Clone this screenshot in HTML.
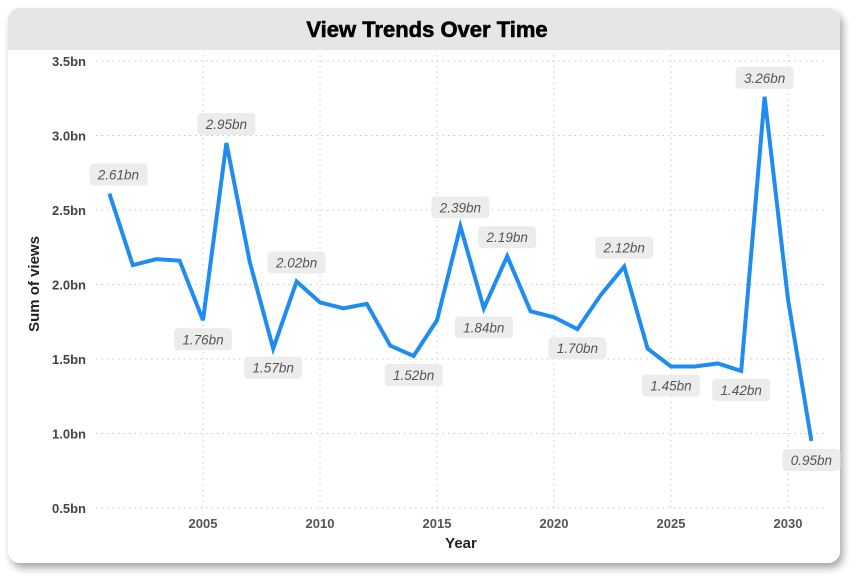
<!DOCTYPE html>
<html><head><meta charset="utf-8"><style>
body{margin:0;background:#fff;font-family:"Liberation Sans",sans-serif}
</style></head><body>
<svg width="859" height="583" xmlns="http://www.w3.org/2000/svg">
<defs><filter id="sh" x="-5%" y="-5%" width="110%" height="115%"><feDropShadow dx="3" dy="5" stdDeviation="4" flood-color="#000" flood-opacity="0.35"/></filter>
<clipPath id="cc"><rect x="8" y="8" width="832" height="555" rx="12"/></clipPath></defs>
<rect x="8" y="8" width="832" height="555" rx="12" fill="#fff" filter="url(#sh)"/>
<g clip-path="url(#cc)"><rect x="8" y="8" width="832" height="42" fill="#e6e6e6"/></g>
<text x="427" y="37" text-anchor="middle" font-size="22" font-weight="900" fill="#000" stroke="#000" stroke-width="0.6">View Trends Over Time</text>
<g id="grid"></g><g id="axes"></g><g id="line"></g><g id="labels"></g>
<text x="461" y="548" text-anchor="middle" font-size="15" font-weight="bold" fill="#222">Year</text>
<text transform="translate(39,284) rotate(-90)" text-anchor="middle" font-size="15" font-weight="bold" fill="#222">Sum of views</text>
</svg>
<script>
const years=[2001,2002,2003,2004,2005,2006,2007,2008,2009,2010,2011,2012,2013,2014,2015,2016,2017,2018,2019,2020,2021,2022,2023,2024,2025,2026,2027,2028,2029,2030,2031];
const views=[2.61,2.13,2.17,2.16,1.76,2.95,2.15,1.57,2.02,1.88,1.84,1.87,1.59,1.52,1.76,2.39,1.84,2.19,1.82,1.78,1.70,1.93,2.12,1.57,1.45,1.45,1.47,1.42,3.26,1.90,0.95];
const labelYears=[2001,2005,2006,2008,2009,2014,2016,2017,2018,2021,2023,2025,2028,2029,2031];
const labelBelow=[0,1,0,1,0,1,0,1,0,1,0,1,1,0,1];
const yTicks=[0.5,1.0,1.5,2.0,2.5,3.0,3.5];
const xTicks=[2005,2010,2015,2020,2025,2030];
const NS="http://www.w3.org/2000/svg";
const X=y=>203+(y-2005)*(788-203)/25;
const Y=v=>508-(v-0.5)*(508-61)/3;
function mk(t,a,p){const e=document.createElementNS(NS,t);for(const k in a)e.setAttribute(k,a[k]);p.appendChild(e);return e;}
const grid=document.getElementById('grid'),axes=document.getElementById('axes');
yTicks.forEach(v=>{
 const l=mk('line',{x1:96,x2:825,y1:Y(v),y2:Y(v),stroke:'#c8c8c8','stroke-dasharray':'1.5 4'},grid);
 
 
 const t=mk('text',{x:86,y:Y(v)+5,'text-anchor':'end','font-size':13,'font-weight':'bold',fill:'#444'},axes);
 t.textContent=v.toFixed(1)+'bn';
 
 
});
xTicks.forEach(v=>{
 const l=mk('line',{x1:X(v),x2:X(v),y1:55,y2:510,stroke:'#c8c8c8','stroke-dasharray':'1.5 4'},grid);
 
 
 const t=mk('text',{x:X(v),y:528,'text-anchor':'middle','font-size':13,'font-weight':'bold',fill:'#555'},axes);
 t.textContent=v;
 
 
});
const pl=mk('polyline',{points:years.map((y,i)=>X(y)+','+Y(views[i])).join(' '),fill:'none',stroke:'#1e8cf0','stroke-width':4,'stroke-linejoin':'miter'},document.getElementById('line'));


const lg=document.getElementById('labels');
labelYears.forEach((yr,i)=>{
 const v=views[years.indexOf(yr)];
 const cx=X(yr)+(i===0?9:0), cy=Y(v)+(labelBelow[i]?19:-19);
 const g=mk('g',{},lg);
 
 
 mk('rect',{x:cx-29,y:cy-11,width:58,height:22,rx:4,fill:'#ececec'},g);
 const t=mk('text',{x:cx,y:cy+5,'text-anchor':'middle','font-size':13.5,'font-style':'italic',fill:'#555'},g);
 t.textContent=v.toFixed(2)+'bn';
});
</script>
</body></html>
